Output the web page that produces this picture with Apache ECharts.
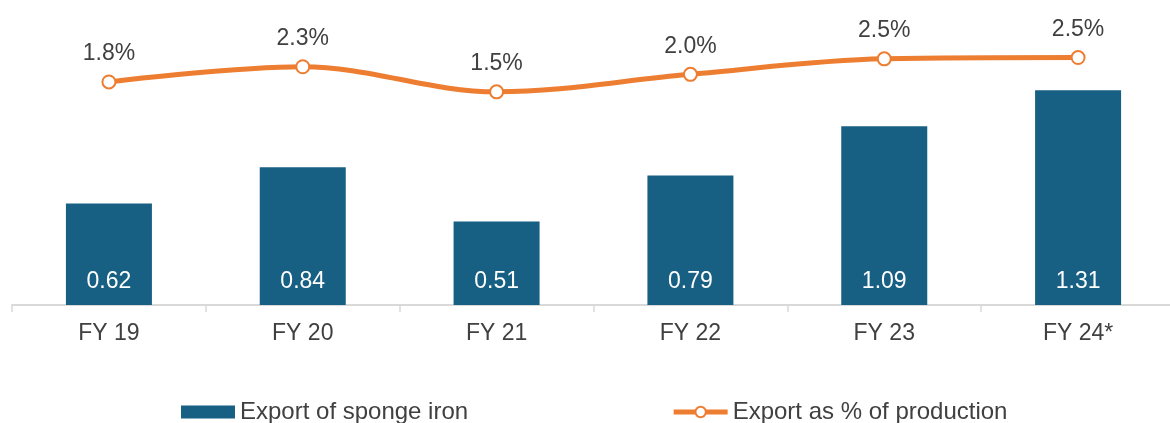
<!DOCTYPE html>
<html>
<head>
<meta charset="utf-8">
<script src="https://cdn.jsdelivr.net/npm/echarts@6/dist/echarts.min.js"></script>
<style>
  html, body { margin: 0; padding: 0; background: #fff; }
  #chart { width: 1170px; height: 423px; }
</style>
</head>
<body>
<div id="chart"></div>
<script>
// data
var years = ['FY 19', 'FY 20', 'FY 21', 'FY 22', 'FY 23', 'FY 24*'];
var exportVolume = [0.62, 0.84, 0.51, 0.79, 1.09, 1.31];
var exportShare = [1.8, 2.26, 1.5, 2.03, 2.5, 2.54];

var textColor = '#404040';
var font = 'Liberation Sans, Arial, sans-serif';

var chart = echarts.init(document.getElementById('chart'));

var option = {
  animation: false,
  grid: {
    left: 12,
    right: -5,
    top: 10,
    bottom: 118,
    containLabel: false,
    outerBoundsMode: 'none',
  },
  legend: {
    top: 395,
    left: 176,
    itemGap: 203,
    itemWidth: 54,
    itemHeight: 13,
    textStyle: {
      color: textColor,
      fontSize: 24,
      fontFamily: font,
    },
    data: [
      { name: 'Export of sponge iron', icon: 'rect' },
      {
        name: 'Export as % of production',
        lineStyle: { width: 5 },
        itemStyle: { borderWidth: 2.5 },
      },
    ],
  },
  xAxis: {
    type: 'category',
    data: years,
    axisLine: {
      lineStyle: { color: '#D9D9D9', width: 2 },
    },
    axisTick: {
      show: true,
      length: 7,
      lineStyle: { color: '#D9D9D9', width: 1.5 },
    },
    axisLabel: {
      color: textColor,
      fontSize: 23,
      fontFamily: font,
      margin: 17,
    },
  },
  yAxis: [
    {
      type: 'value',
      min: 0,
      max: 1.8,
      show: false,
    },
    {
      type: 'value',
      min: -4.96,
      max: 3.98,
      show: false,
    },
  ],
  series: [
    {
      name: 'Export of sponge iron',
      type: 'bar',
      data: exportVolume,
      barWidth: 86,
      itemStyle: { color: '#175F83' },
      label: {
        show: true,
        position: 'insideBottom',
        distance: 12,
        color: '#fff',
        fontSize: 23,
        fontFamily: font,
        formatter: function (p) {
          return p.value.toFixed(2);
        },
      },
    },
    {
      name: 'Export as % of production',
      type: 'line',
      yAxisIndex: 1,
      data: exportShare,
      smooth: 0.35,
      color: '#ED7D31',
      symbol: 'emptyCircle',
      symbolSize: 13,
      lineStyle: { width: 5, color: '#ED7D31' },
      itemStyle: { borderWidth: 2.5, borderColor: '#ED7D31' },
      label: {
        show: true,
        position: 'top',
        distance: 9,
        color: textColor,
        fontSize: 23,
        fontFamily: font,
        formatter: function (p) {
          return p.value.toFixed(1) + '%';
        },
      },
    },
  ],
};

chart.setOption(option);
</script>
</body>
</html>
